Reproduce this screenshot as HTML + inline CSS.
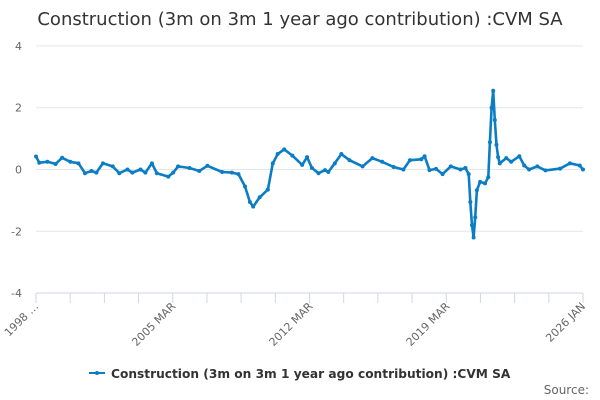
<!DOCTYPE html>
<html><head><meta charset="utf-8"><style>
body{margin:0;background:#fff;font-family:"Liberation Sans","DejaVu Sans",sans-serif}
svg{display:block}
</style></head><body>
<svg id="c" width="600" height="400">
<text x="300" y="25" text-anchor="middle" font-family="DejaVu Sans, sans-serif" font-size="18" fill="#333">Construction (3m on 3m 1 year ago contribution) :CVM SA</text>
<g id="grid"></g><g id="xaxis"></g><g id="series"></g>
<g>
<line x1="89" y1="373" x2="105" y2="373" stroke="#0b7dc4" stroke-width="2"/>
<circle cx="97" cy="373" r="2" fill="#0b7dc4"/>
<text x="111" y="378" font-family="DejaVu Sans, sans-serif" font-size="12.2" font-weight="bold" fill="#333">Construction (3m on 3m 1 year ago contribution) :CVM SA</text>
</g>
<text x="589" y="394" text-anchor="end" font-family="DejaVu Sans, sans-serif" font-size="12" fill="#666">Source:</text>
</svg>
<script>
const months=[0,2,7,12,16,21,26,30,34,37,41,47,51,56,59,64,67,71,74,81,84,87,94,100,105,114,120,124,128,131,133,137,142,145,148,152,157,163,166,169,173,177,179,183,187,192,200,206,212,219,225,229,236,238,241,245,249,254,260,263,265,266,267,268,269,270,272,275,277,278,279,280,281,282,283,284,288,291,296,299,302,307,312,321,327,333,335];
const values=[0.42,0.22,0.25,0.18,0.38,0.25,0.2,-0.12,-0.05,-0.1,0.2,0.1,-0.12,0,-0.1,0,-0.1,0.2,-0.12,-0.23,-0.1,0.1,0.05,-0.05,0.12,-0.08,-0.1,-0.15,-0.55,-1.05,-1.2,-0.9,-0.65,0.2,0.5,0.65,0.45,0.15,0.4,0.05,-0.12,-0.02,-0.08,0.2,0.5,0.3,0.1,0.37,0.25,0.08,0,0.3,0.33,0.43,-0.02,0.02,-0.15,0.1,0,0.05,-0.15,-1.05,-1.8,-2.2,-1.55,-0.67,-0.4,-0.45,-0.25,0.88,2.0,2.55,1.6,0.8,0.4,0.2,0.37,0.25,0.43,0.13,0,0.1,-0.03,0.03,0.2,0.13,0];
const yTicks=[4,2,0,-2,-4];
const xLabels=[[0,"1998 …"],[84,"2005 MAR"],[168,"2012 MAR"],[252,"2019 MAR"],[335,"2026 JAN"]];
const totalMonths=335;
const NS="http://www.w3.org/2000/svg";
const X=m=>36+m*(547/totalMonths);
const Y=v=>169.5-v*30.9;
const grid=document.getElementById('grid'),xa=document.getElementById('xaxis'),se=document.getElementById('series');
function mk(tag,at,p){const e=document.createElementNS(NS,tag);for(const k in at)e.setAttribute(k,at[k]);p.appendChild(e);return e;}
yTicks.forEach(t=>{
 if(t!==-4){const l=mk('line',{x1:36,x2:583,y1:Y(t),y2:Y(t),stroke:'#e6e6e6','stroke-width':1},grid);
 
 }
 const tx=mk('text',{x:22,y:Y(t)+4,'text-anchor':'end','font-size':11,fill:'#666','font-family':'DejaVu Sans, sans-serif'},grid);
 tx.textContent=t;
 
 
});
const ax=mk('line',{x1:36,x2:583,y1:293,y2:293,stroke:'#ccd6eb'},xa);


for(let i=0;i<=16;i++){const x=36+i*547/16;const t=mk('line',{x1:x,x2:x,y1:293,y2:303,stroke:'#ccd6eb'},xa);
 
 }
xLabels.forEach(([m,s])=>{const x=X(m);const t=mk('text',{x:x+3,y:307,'text-anchor':'end','font-size':11,fill:'#666','font-family':'DejaVu Sans, sans-serif',transform:`rotate(-45 ${x+3} 307)`},xa);
 t.textContent=s;
 
 });
const d=months.map((m,i)=>(i?'L':'M')+X(m).toFixed(1)+' '+Y(values[i]).toFixed(1)).join(' ');
const p=mk('path',{d:d,fill:'none',stroke:'#0b7dc4','stroke-width':2.6,'stroke-linejoin':'round'},se);


months.forEach((m,i)=>{const c=mk('circle',{cx:X(m),cy:Y(values[i]),r:2,fill:'#0b7dc4'},se);
 
 });
</script>
</body></html>
